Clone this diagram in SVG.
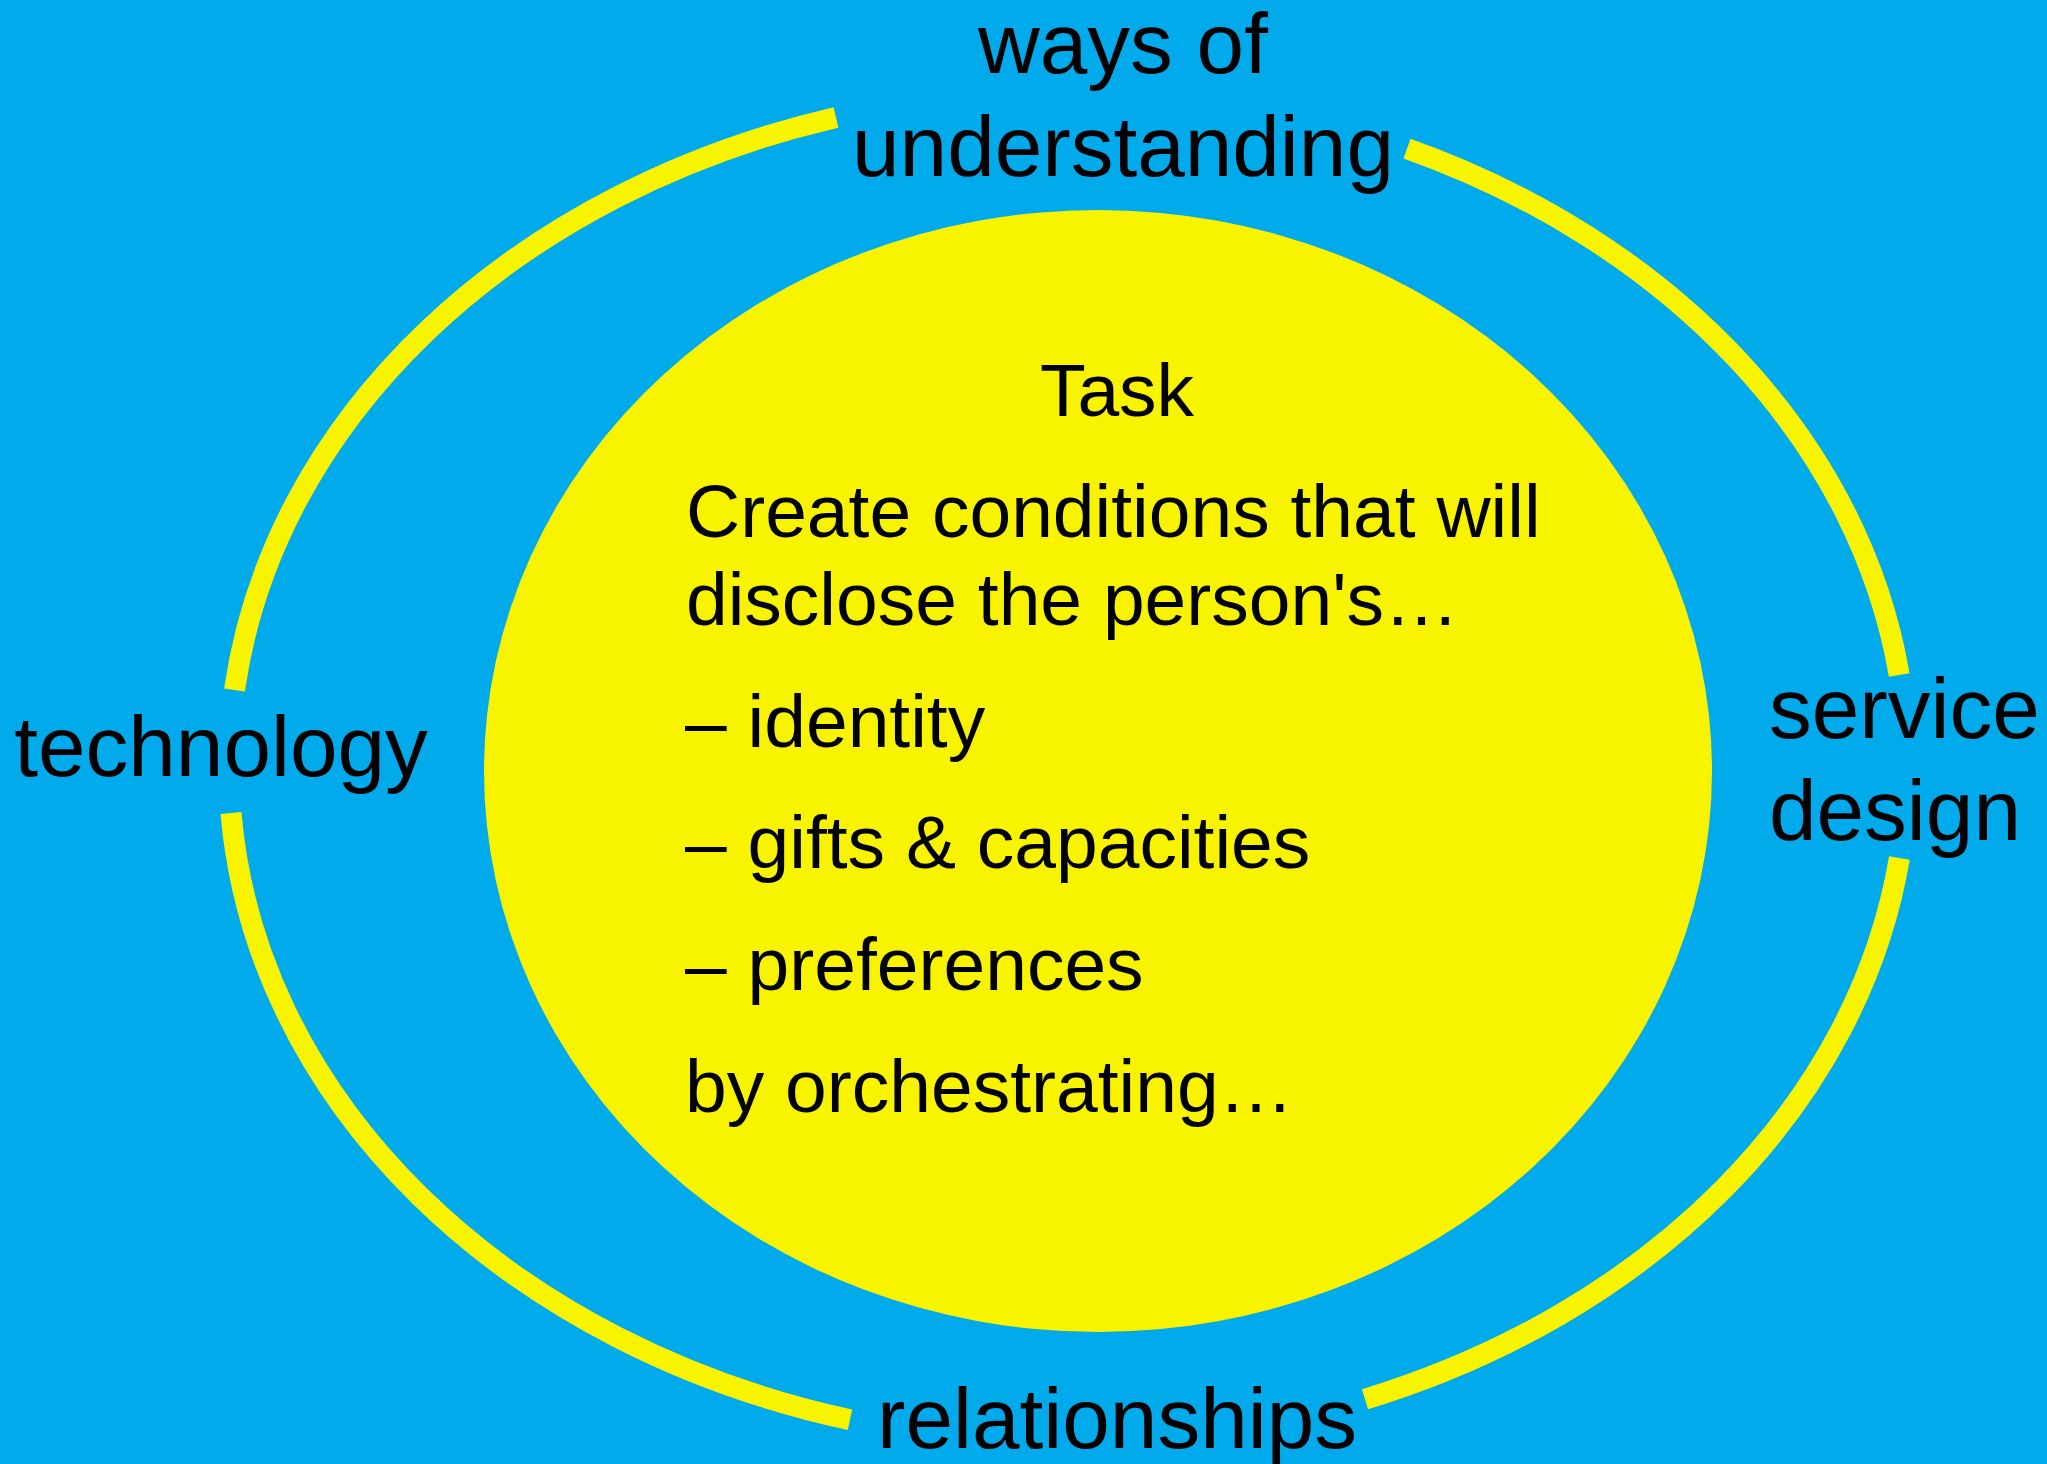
<svg xmlns="http://www.w3.org/2000/svg" width="2047" height="1464" viewBox="0 0 2047 1464">
  <style>
    .bg { fill: #00AAEB; }
    .ring { fill: none; stroke: #F8F400; stroke-width: 21; stroke-linecap: butt; }
    .core { fill: #F8F400; }
    .lbl { font-family: "Liberation Sans", Arial, sans-serif; font-size: 85.5px; fill: #000000; }
    .txt { font-family: "Liberation Sans", Arial, sans-serif; font-size: 75px; fill: #000000; }
  </style>
  <rect class="bg" x="0" y="0" width="2047" height="1464"/>
  <g id="connectors">
    <path class="ring" d="M 836 117.4 A 839 676 0 0 0 234.5 690"/>
    <path class="ring" d="M 1407 148.6 A 839 676 0 0 1 1899.2 675"/>
    <path class="ring" d="M 1899.4 858 A 839 676 0 0 1 1365 1399.3"/>
    <path class="ring" d="M 231 813 A 839 676 0 0 0 850 1419.8"/>
  </g>
  <g id="task">
    <ellipse class="core" cx="1098" cy="771" rx="614" ry="561"/>
    <text class="txt" x="1117" y="416" text-anchor="middle">Task</text>
    <text class="txt" x="686" y="537">Create conditions that will</text>
    <text class="txt" x="686" y="625">disclose the person's…</text>
    <text class="txt" x="685" y="747">– identity</text>
    <text class="txt" x="685" y="868">– gifts &amp; capacities</text>
    <text class="txt" x="685" y="990">– preferences</text>
    <text class="txt" x="685" y="1112">by orchestrating…</text>
  </g>
  <g id="ways-of-understanding">
    <text class="lbl" x="1123" y="73" text-anchor="middle">ways of</text>
    <text class="lbl" x="1123" y="176" text-anchor="middle">understanding</text>
  </g>
  <g id="technology">
    <text class="lbl" x="221" y="776" text-anchor="middle">technology</text>
  </g>
  <g id="service-design">
    <text class="lbl" x="1769" y="738">service</text>
    <text class="lbl" x="1769" y="840">design</text>
  </g>
  <g id="relationships">
    <text class="lbl" x="1117" y="1448" text-anchor="middle">relationships</text>
  </g>
</svg>
